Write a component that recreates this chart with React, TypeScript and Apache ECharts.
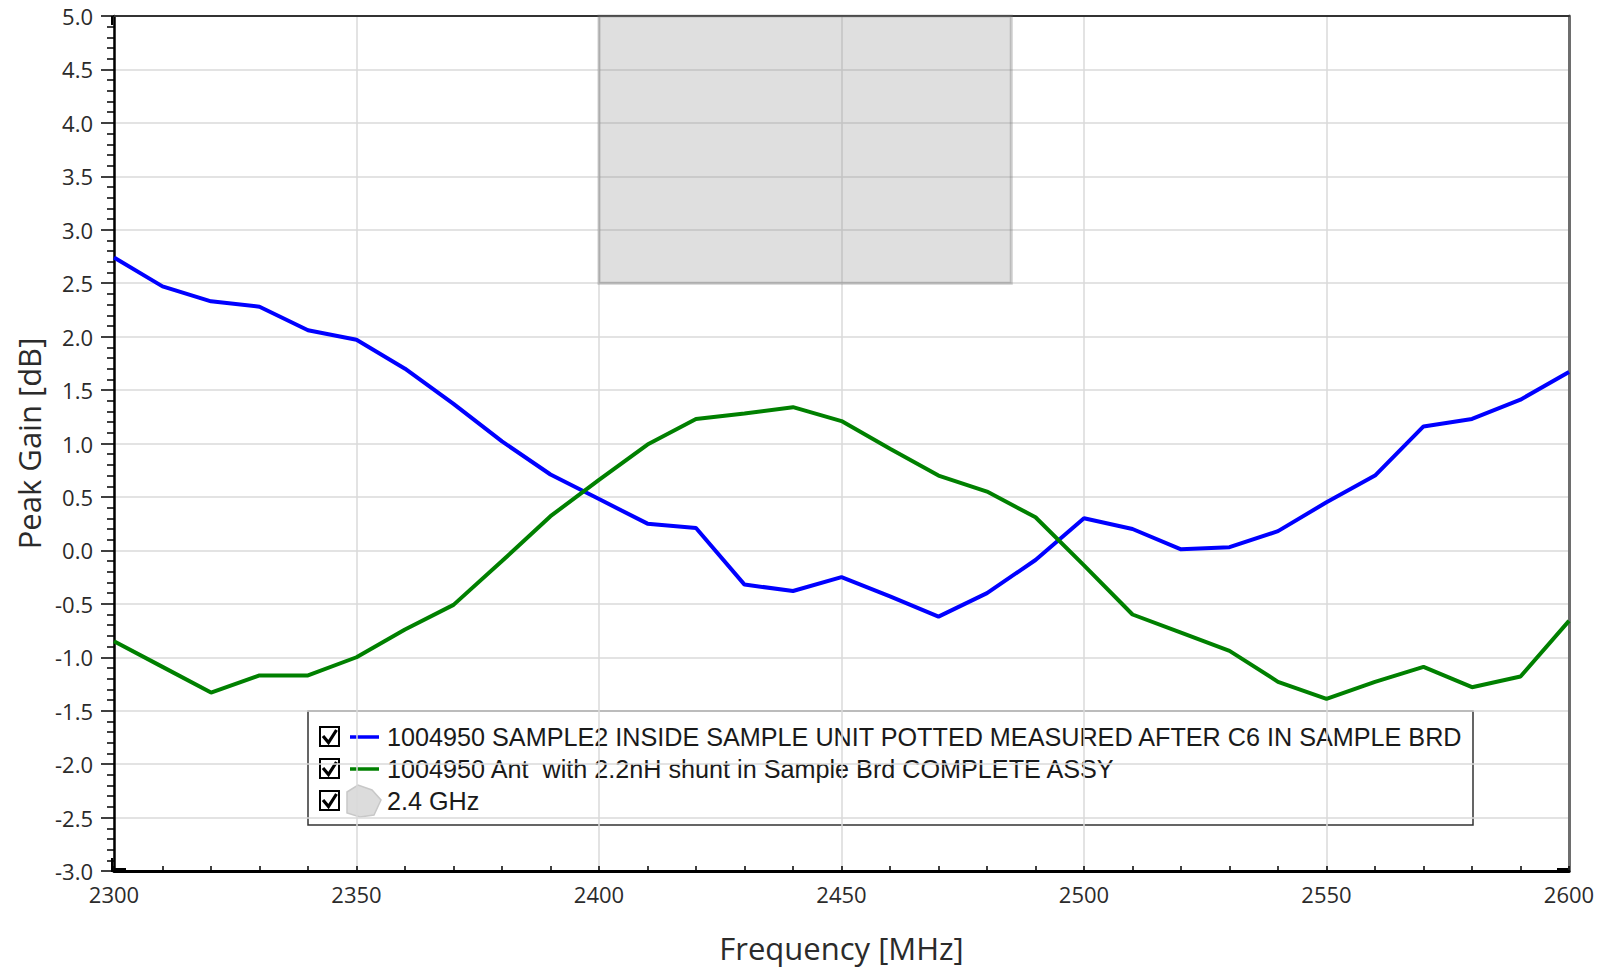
import React, { useEffect, useRef } from "react";
import * as echarts from "echarts";

const freqMHz = [2300, 2310, 2320, 2330, 2340, 2350, 2360, 2370, 2380, 2390, 2400, 2410, 2420, 2430, 2440, 2450, 2460, 2470, 2480, 2490, 2500, 2510, 2520, 2530, 2540, 2550, 2560, 2570, 2580, 2590, 2600];
const sample2Gain = [2.74, 2.47, 2.33, 2.28, 2.06, 1.97, 1.70, 1.37, 1.02, 0.71, 0.48, 0.25, 0.21, -0.32, -0.38, -0.25, -0.43, -0.62, -0.40, -0.09, 0.30, 0.20, 0.01, 0.03, 0.18, 0.45, 0.70, 1.16, 1.23, 1.41, 1.67];
const shuntGain = [-0.85, -1.09, -1.33, -1.17, -1.17, -1.00, -0.74, -0.51, -0.10, 0.32, 0.66, 0.99, 1.23, 1.28, 1.34, 1.21, 0.95, 0.70, 0.55, 0.31, -0.14, -0.60, -0.77, -0.94, -1.23, -1.39, -1.23, -1.09, -1.28, -1.18, -0.66];
const bandX = [2400, 2485];
const bandY = [2.5, 5.0];
const seriesNames = [
  "1004950 SAMPLE2 INSIDE SAMPLE UNIT POTTED MEASURED AFTER C6 IN SAMPLE BRD",
  "1004950 Ant  with 2.2nH shunt in Sample Brd COMPLETE ASSY",
  "2.4 GHz",
];
const seriesColors = ["#0000ff", "#008000", "#d8d8d8"];
const xTitle = "Frequency [MHz]";
const yTitle = "Peak Gain [dB]";

export default function App() {
  const ref = useRef<HTMLDivElement>(null);
  useEffect(() => {
    if (!ref.current) return;
    const chart = echarts.init(ref.current, null, { renderer: "svg" });
    const tickFont = { fontFamily: "Open Sans", fontSize: 22, color: "#2b2b2b" };
    const rowsY = [737, 769, 801];
    const legendEls: any[] = [
      { type: "rect", shape: { x: 308, y: 711, width: 1165, height: 114 }, style: { fill: "none", stroke: "#333", lineWidth: 1.5 } },
    ];
    seriesNames.forEach((name, i) => {
      const cy = rowsY[i];
      legendEls.push({ type: "rect", shape: { x: 320, y: cy - 10, width: 19, height: 19 }, style: { fill: "#fff", stroke: "#000", lineWidth: 2 } });
      legendEls.push({ type: "polyline", shape: { points: [[323, cy - 1], [328.5, cy + 5.5], [336.5, cy - 7]] }, style: { fill: "none", stroke: "#000", lineWidth: 3.2 } });
      if (i < 2) {
        legendEls.push({ type: "line", shape: { x1: 350, y1: cy, x2: 379, y2: cy }, style: { stroke: seriesColors[i], lineWidth: 3.5 } });
      } else {
        legendEls.push({
          type: "polygon",
          shape: { points: [[347, cy - 9], [358, cy - 16], [372, cy - 11], [381, cy - 1], [374, cy + 14], [360, cy + 16], [347, cy + 12]] },
          style: { fill: "#dcdcdc", stroke: "#c8c8c8", lineWidth: 1.5 },
        });
      }
      legendEls.push({ type: "text", x: 387, y: cy, style: { text: name, font: '25.2px "Liberation Sans"', fill: "#1a1a1a", verticalAlign: "middle", align: "left" } });
    });
    const corners: any[] = [
      { type: "rect", shape: { x: 111, y: 16, width: 4, height: 9 }, style: { fill: "#000" } },
      { type: "rect", shape: { x: 111, y: 858, width: 4, height: 14 }, style: { fill: "#000" } },
      { type: "rect", shape: { x: 114, y: 868, width: 12, height: 4 }, style: { fill: "#000" } },
      { type: "rect", shape: { x: 1557, y: 868, width: 12, height: 4 }, style: { fill: "#000" } },
    ];
    chart.setOption({
      animation: false,
      backgroundColor: "#fff",
      grid: { left: 114, top: 16, right: 29, bottom: 99, containLabel: false },
      xAxis: [
        {
          type: "value", min: 2300, max: 2600, interval: 50,
          name: xTitle, nameLocation: "middle", nameGap: 61,
          nameTextStyle: { fontFamily: "Open Sans", fontSize: 31, color: "#2b2b2b" },
          axisLine: { show: true, onZero: false, lineStyle: { color: "#000", width: 3 } },
          axisTick: { show: true, inside: true, length: 5, lineStyle: { color: "#000", width: 1.5 } },
          minorTick: { show: true, splitNumber: 5, length: 5, lineStyle: { color: "#000", width: 1.5 } },
          axisLabel: { ...tickFont, margin: 12, formatter: (v: number) => String(v) },
          splitLine: { show: true, lineStyle: { color: "#dadada", width: 1.5 } },
        },
        {
          type: "value", position: "top", min: 2300, max: 2600, interval: 50,
          axisLine: { show: true, onZero: false, lineStyle: { color: "#333", width: 2 } },
          axisTick: { show: false }, axisLabel: { show: false }, splitLine: { show: false },
        },
      ],
      yAxis: [
        {
          type: "value", min: -3, max: 5, interval: 0.5,
          name: yTitle, nameLocation: "middle", nameGap: 70, nameRotate: 90,
          nameTextStyle: { fontFamily: "Open Sans", fontSize: 31, color: "#2b2b2b" },
          axisLine: { show: true, onZero: false, lineStyle: { color: "#000", width: 2.5 } },
          axisTick: { show: true, inside: false, length: 13, lineStyle: { color: "#000", width: 1.5 } },
          minorTick: { show: true, splitNumber: 5, length: 7, lineStyle: { color: "#000", width: 1.5 } },
          axisLabel: { ...tickFont, margin: 21, formatter: (v: number) => v.toFixed(1) },
          splitLine: { show: true, lineStyle: { color: "#dadada", width: 1.5 } },
        },
        {
          type: "value", position: "right", min: -3, max: 5, interval: 0.5,
          axisLine: { show: true, onZero: false, lineStyle: { color: "#6e6e6e", width: 3 } },
          axisTick: { show: false }, axisLabel: { show: false }, splitLine: { show: false },
        },
      ],
      legend: { show: false },
      series: [
        {
          name: seriesNames[0], type: "line", xAxisIndex: 0, yAxisIndex: 0,
          data: freqMHz.map((f, i) => [f, sample2Gain[i]]),
          showSymbol: false, symbol: "none", z: 5,
          lineStyle: { color: seriesColors[0], width: 4 },
        },
        {
          name: seriesNames[1], type: "line", xAxisIndex: 0, yAxisIndex: 0,
          data: freqMHz.map((f, i) => [f, shuntGain[i]]),
          showSymbol: false, symbol: "none", z: 5,
          lineStyle: { color: seriesColors[1], width: 4 },
        },
        {
          name: seriesNames[2], type: "line", xAxisIndex: 0, yAxisIndex: 0,
          data: [], showSymbol: false,
          markArea: {
            silent: true,
            itemStyle: { color: "rgba(128,128,128,0.25)", borderColor: "rgba(120,120,120,0.35)", borderWidth: 3 },
            data: [[{ xAxis: bandX[0], yAxis: bandY[0] }, { xAxis: bandX[1], yAxis: bandY[1] }]],
          },
        },
      ],
      graphic: [...corners, { type: "group", z: 100, children: legendEls }],
    });
    return () => chart.dispose();
  }, []);
  return <div ref={ref} style={{ position: "fixed", left: 0, top: 0, width: 1598, height: 970 }} />;
}
